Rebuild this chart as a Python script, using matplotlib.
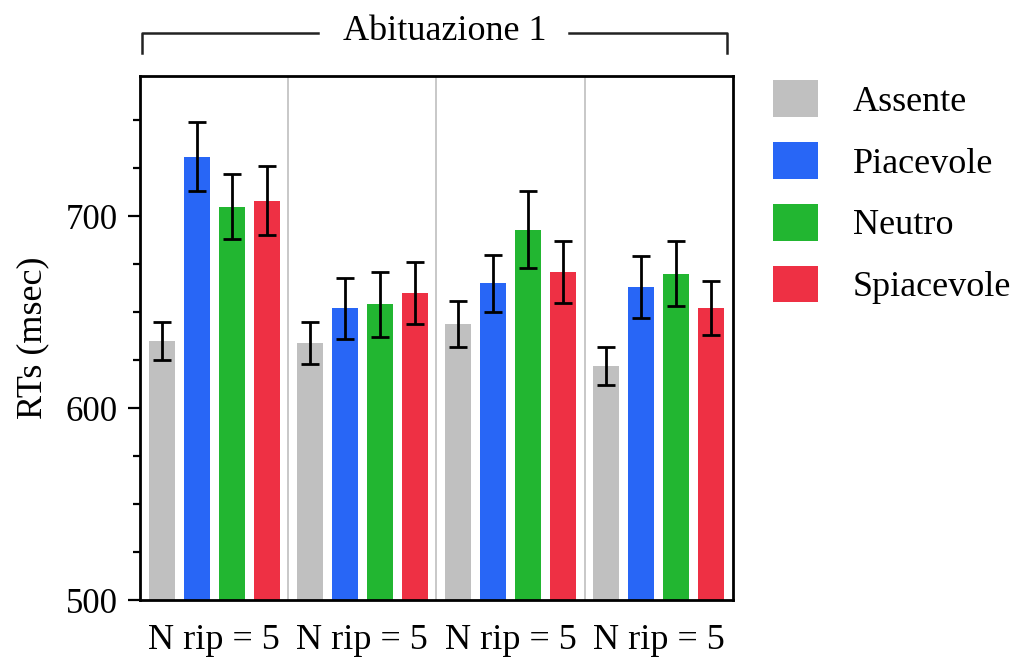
import matplotlib
matplotlib.use("Agg")
import matplotlib.pyplot as plt
from matplotlib.patches import Patch
from matplotlib.ticker import MultipleLocator
import numpy as np

plt.rcParams['font.family'] = ['Liberation Serif', 'DejaVu Serif']

groups = ["N rip = 5", "N rip = 5", "N rip = 5", "N rip = 5"]
conditions = ["Assente", "Piacevole", "Neutro", "Spiacevole"]
colors = ["#c0c0c0", "#2866f6", "#22b631", "#ee3044"]

# mean reaction times per condition, one value per group
assente = [635, 634, 644, 622]
piacevole = [731, 652, 665, 663]
neutro = [705, 654, 693, 670]
spiacevole = [708, 660, 671, 652]

# error bar half-widths
err_assente = [10, 11, 12, 10]
err_piacevole = [18, 16, 15, 16]
err_neutro = [17, 17, 20, 17]
err_spiacevole = [18, 16, 16, 14]

means = [assente, piacevole, neutro, spiacevole]
errs = [err_assente, err_piacevole, err_neutro, err_spiacevole]

title_text = "Abituazione 1"
ylabel_text = "RTs (msec)"
yticks = [500, 600, 700]

FS = 26

fig = plt.figure(figsize=(10.15, 6.6), dpi=100)
ax = fig.add_axes([0.1379, 0.0909, 0.5842, 0.7939])

x = np.arange(len(groups))
spacing = 0.236
width = 0.176
offsets = (np.arange(len(conditions)) - 1.5) * spacing

for i, (m, e, c) in enumerate(zip(means, errs, colors)):
    ax.bar(x + offsets[i], m, width=width, color=c, edgecolor='none', zorder=2)
    ax.errorbar(x + offsets[i], m, yerr=e, fmt='none', ecolor='black',
                elinewidth=2.0, capsize=6.5, capthick=2.0, zorder=3)

# separators between groups
for b in x[1:] - 0.5:
    ax.axvline(b, color='#c8c8c8', lw=1.4, zorder=1)

ax.set_xlim(-0.5, len(groups) - 0.5)
ax.set_ylim(500, 773)
ax.set_yticks(yticks)
ax.yaxis.set_minor_locator(MultipleLocator(25))
ax.set_xticks(x)
ax.set_xticklabels(groups, fontsize=FS)
ax.tick_params(axis='x', length=0, pad=17)
ax.tick_params(axis='y', which='major', length=9, width=1.6, labelsize=FS - 1,
               direction='out', pad=7)
ax.tick_params(axis='y', which='minor', length=5, width=1.6, direction='out')
ax.set_ylabel(ylabel_text, fontsize=FS, labelpad=12)
for s in ax.spines.values():
    s.set_linewidth(2.0)

# header bracket
by = 1.082
bt = 1.044
kw = dict(transform=ax.transAxes, color='#222222', lw=1.8, clip_on=False)
ax.plot([0.003, 0.003, 0.300], [bt, by, by], **kw)
ax.plot([0.723, 0.99, 0.99], [by, by, bt], **kw)
ax.text(0.5135, 1.0687, title_text, transform=ax.transAxes, ha='center',
        va='baseline', fontsize=FS)

handles = [Patch(facecolor=c, edgecolor='none', label=l) for c, l in zip(colors, conditions)]
fig.legend(handles=handles, loc='upper left', bbox_to_anchor=(0.747, 0.900),
           frameon=False, fontsize=FS, handlelength=1.25, handleheight=1.19,
           handletextpad=0.97, labelspacing=0.64, borderaxespad=0)

fig.savefig("out.png", dpi=100)
